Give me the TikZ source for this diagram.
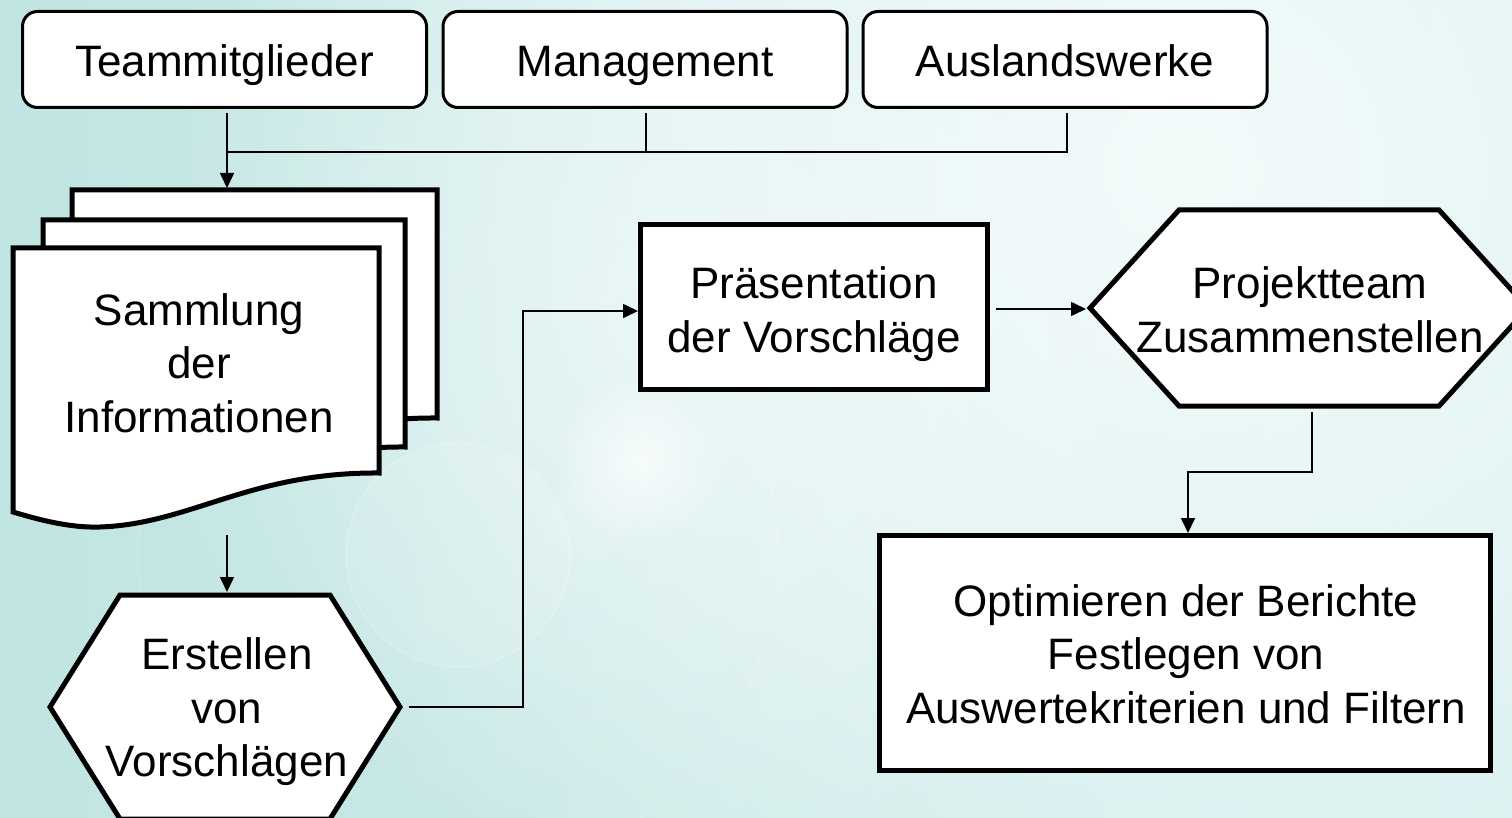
\documentclass[tikz,border=0pt]{standalone}
\usepackage{fontspec}
\setmainfont{Liberation Sans}
\usetikzlibrary{arrows.meta,fadings}
\definecolor{bgA}{RGB}{192,229,226}
\definecolor{bgB}{RGB}{212,238,238}
\definecolor{bgC}{RGB}{244,251,251}
\tikzfading[name=glow, inner color=transparent!0, outer color=transparent!100]
\tikzset{
 topbox/.style={draw=black,fill=white,line width=3pt,rounded corners=15pt,minimum width=404pt,minimum height=96pt,inner sep=0pt,text height=35pt,text depth=0pt,font=\fontsize{44}{53}\selectfont},
 heavy/.style={draw=black,fill=white,line width=5pt,line join=miter},
 rectbox/.style={heavy,inner sep=0pt},
 txt/.style={align=center,inner sep=0pt,font=\fontsize{44}{53.5}\selectfont},
 conn/.style={line width=1.6pt,draw=black},
 arr/.style={-{Triangle[length=15pt,width=14pt]}},
}
\begin{document}
\begin{tikzpicture}[x=1pt,y=-1pt]
\useasboundingbox (0,0) rectangle (1512,818);
% background
\begin{scope}
\clip (0,0) rectangle (1512,818);
\shade[left color=bgA,right color=bgB] (0,0) rectangle (1512,818);
\fill[bgC,path fading=glow] (1180,170) circle (1000);
\fill[bgC,path fading=glow,opacity=0.6] (700,300) circle (600);
\fill[white,opacity=0.10] (458,555) circle (112);
\draw[white,opacity=0.18,line width=2pt] (458,555) circle (112);
\draw[white,opacity=0.10,line width=3pt] (458,555) circle (320);
\fill[white,path fading=glow,opacity=0.7] (640,462) circle (90);
\fill[white,opacity=0.10] (590,520) circle (40);
\end{scope}

% top boxes
\node[topbox] (tm) at (224.5,59.5) {Teammitglieder};
\node[topbox] (mg) at (645,59.5) {Management};
\node[topbox] (aw) at (1065,59.5) {Auslandswerke};

% documents
\path[heavy] (72,190) -- (437,190) -- (437,418) .. controls (308,417) and (248,469) .. (158,472) .. controls (128,473) and (98,465) .. (72,457) -- cycle;
\path[heavy] (43,220) -- (405,220) -- (405,447) .. controls (276,446) and (216,498) .. (126,501) .. controls (96,502) and (66,494) .. (43,486) -- cycle;
\path[heavy] (13,248) -- (379,248) -- (379,473) .. controls (250,472) and (190,524) .. (100,527) .. controls (70,528) and (40,520) .. (13,512) -- cycle;
\node[txt] (doc) at (199,363) {Sammlung\\der\\Informationen};
\coordinate (jn) at (227,152);
\coordinate (docin) at (227,188);
\coordinate (docout) at (227,535);

% Erstellen hexagon
\path[heavy] (50,707) -- (120,595) -- (330,595) -- (400,707) -- (330,819) -- (120,819) -- cycle;
\node[txt] (es) at (227,712) {Erstellen\\von\\Vorschlägen};
\coordinate (et) at (227,592);
\coordinate (er) at (409,707);
\coordinate (bend1) at (523,707);

% Praesentation
\node[rectbox,minimum width=347pt,minimum height=165pt] (pr) at (814,307) {};
\node[txt] (prt) at (814,314) {Präsentation\\der Vorschläge};

% Projektteam hexagon
\path[heavy] (1090,308) -- (1179,210) -- (1439,210) -- (1528,308) -- (1439,406) -- (1179,406) -- cycle;
\node[txt] (pt) at (1310,310) {Projektteam\\Zusammenstellen};
\coordinate (pl) at (1086,309);
\coordinate (pb) at (1312,407);
\coordinate (bend2) at (1312,472);

% final box
\node[rectbox,minimum width=611pt,minimum height=235pt] (fb) at (1185,653) {};
\node[txt] (fbt) at (1186,654) {Optimieren der Berichte\\Festlegen von\hspace*{12pt}\\Auswertekriterien und Filtern};

% connectors
\draw[conn,arr] ([xshift=2.5pt,yshift=-4pt]tm.south) -- (docin);
\draw[conn] ([xshift=1pt,yshift=-4pt]mg.south) |- (jn);
\draw[conn] ([xshift=2pt,yshift=-4pt]aw.south) |- (jn);
\draw[conn,arr] (docout) -- (et);
\draw[conn,arr] (er) -- (bend1) |- ([yshift=-4pt]pr.west);
\draw[conn,arr] ([xshift=6pt,yshift=-2pt]pr.east) -- (pl);
\draw[conn,arr] ([yshift=-5pt]pb) -- (bend2) -| ([xshift=3pt]fb.north);
\end{tikzpicture}
\end{document}
